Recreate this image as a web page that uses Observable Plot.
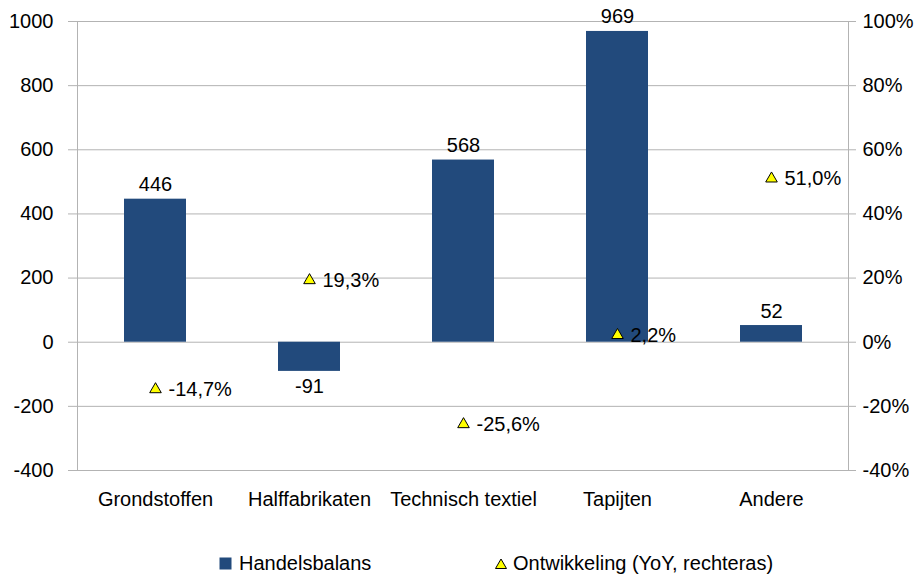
<!DOCTYPE html>
<html>
<head>
<meta charset="utf-8">
<script src="https://cdn.jsdelivr.net/npm/d3@7"></script>
<script src="https://cdn.jsdelivr.net/npm/@observablehq/plot@0.6"></script>
<style>
  body { margin: 0; background: #fff; font-family: "Liberation Sans", Arial, sans-serif; }
  #wrap { position: relative; width: 922px; height: 577px; }
  .leg { position: absolute; font-size: 20px; color: #000; white-space: nowrap; }
</style>
</head>
<body>
<div id="wrap">
  <div id="chart"></div>
  <div class="leg" style="left:219px; top:552px; display:flex; align-items:center;">
    <svg width="14" height="14" style="margin-right:6px"><rect x="0.5" y="0.5" width="12" height="12" fill="#224A7C"/></svg>
    <span>Handelsbalans</span>
  </div>
  <div class="leg" style="left:494px; top:552px; display:flex; align-items:center;">
    <svg width="14" height="14" style="margin-right:5px"><path d="M7,2 L12.5,11.5 L1.5,11.5 Z" fill="#FFFF00" stroke="#000" stroke-width="1"/></svg>
    <span>Ontwikkeling (YoY, rechteras)</span>
  </div>
</div>
<script>
const categories = ["Grondstoffen", "Halffabrikaten", "Technisch textiel", "Tapijten", "Andere"];
const handelsbalans = [446, -91, 568, 969, 52];
const ontwikkeling = [-14.7, 19.3, -25.6, 2.2, 51.0]; // percent, right axis
const leftTicks = [-400, -200, 0, 200, 400, 600, 800, 1000];
const rightTicks = [-40, -20, 0, 20, 40, 60, 80, 100];

const bars = categories.map((c, i) => ({cat: c, v: handelsbalans[i]}));
// right axis -40%..100% aligned with left -400..1000
const yoy = categories.map((c, i) => ({cat: c, p: ontwikkeling[i], y: ontwikkeling[i] * 10}));
const fmtPct = p => p.toFixed(1).replace(".", ",") + "%";

const chart = Plot.plot({
  width: 922,
  height: 540,
  marginLeft: 77,
  marginRight: 74,
  marginTop: 21,
  marginBottom: 70,
  style: {fontFamily: "'Liberation Sans', Arial, sans-serif", fontSize: "20px", color: "#000", background: "#fff"},
  x: {domain: categories, paddingInner: 0.6, paddingOuter: 0.3, axis: null},
  y: {domain: [-400, 1000], axis: null},
  marks: [
    Plot.gridY(leftTicks, {stroke: "#b3b3b3", strokeOpacity: 1}),
    Plot.frame({stroke: "#b3b3b3"}),
    Plot.axisY(leftTicks, {anchor: "left", tickSize: 9, tickPadding: 15, stroke: "#b3b3b3", fill: "#000", fontSize: 20,
      tickFormat: d => String(d), label: null}),
    Plot.axisY(rightTicks.map(t => t * 10), {anchor: "right", tickSize: 7, tickPadding: 7, stroke: "#b3b3b3", fill: "#000", fontSize: 20,
      tickFormat: d => (d / 10) + "%", label: null}),
    Plot.axisX({tickSize: 0, tickPadding: 21, fill: "#000", fontSize: 20, label: null}),
    Plot.barY(bars, {x: "cat", y: "v", fill: "#224A7C"}),
    Plot.text(bars, {x: "cat", y: "v", text: d => String(d.v), fill: "#000", fontSize: 20,
      filter: d => d.v >= 0, lineAnchor: "bottom", dy: -8}),
    Plot.text(bars, {x: "cat", y: "v", text: d => String(d.v), fill: "#000", fontSize: 20,
      filter: d => d.v < 0, lineAnchor: "top", dy: 7}),
    Plot.dot(yoy, {x: "cat", y: "y", symbol: "triangle", r: 4.3, fill: "#FFFF00", stroke: "#000", strokeWidth: 1}),
    Plot.text(yoy, {x: "cat", y: "y", text: d => fmtPct(d.p), textAnchor: "start", dx: 13, fill: "#000", fontSize: 20})
  ]
});
document.getElementById("chart").appendChild(chart);
</script>
</body>
</html>
